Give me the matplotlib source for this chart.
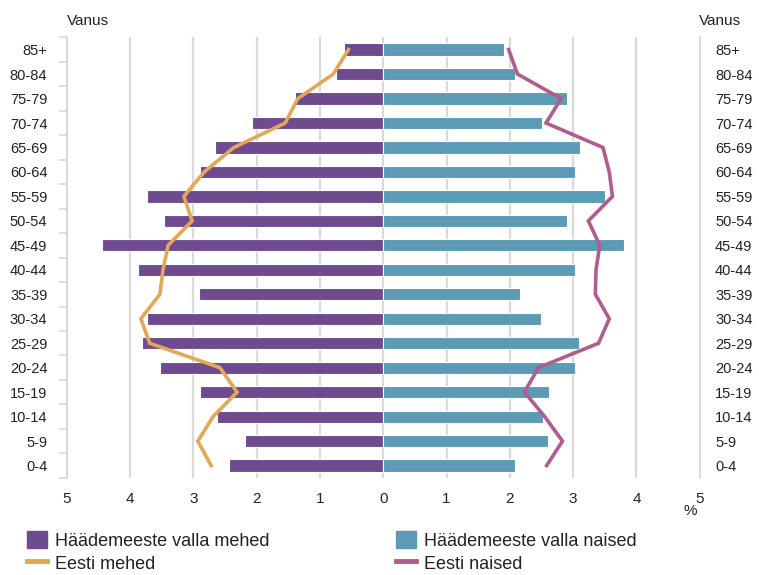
import matplotlib.pyplot as plt
import numpy as np
from matplotlib.patches import Patch
from matplotlib.lines import Line2D

plt.rcParams['font.family'] = ['Liberation Sans', 'DejaVu Sans']

# age groups, bottom to top
ages = ["0-4", "5-9", "10-14", "15-19", "20-24", "25-29", "30-34", "35-39", "40-44",
        "45-49", "50-54", "55-59", "60-64", "65-69", "70-74", "75-79", "80-84", "85+"]

# Häädemeeste vald, % of population
valla_mehed = [2.44, 2.18, 2.63, 2.90, 3.53, 3.81, 3.73, 2.91, 3.88,
               4.45, 3.47, 3.73, 2.90, 2.66, 2.07, 1.39, 0.74, 0.62]
valla_naised = [2.08, 2.60, 2.53, 2.62, 3.03, 3.09, 2.49, 2.16, 3.03,
                3.80, 2.90, 3.50, 3.03, 3.11, 2.51, 2.90, 2.08, 1.91]

# Estonia, % of population
eesti_mehed = [2.72, 2.93, 2.69, 2.31, 2.58, 3.69, 3.83, 3.53, 3.48,
               3.40, 3.02, 3.15, 2.83, 2.36, 1.55, 1.35, 0.79, 0.55]
eesti_naised = [2.58, 2.83, 2.55, 2.23, 2.45, 3.40, 3.57, 3.35, 3.36,
                3.42, 3.24, 3.62, 3.57, 3.47, 2.57, 2.81, 2.12, 1.98]

x_ticks = [-5, -4, -3, -2, -1, 0, 1, 2, 3, 4, 5]
x_labels = ["5", "4", "3", "2", "1", "0", "1", "2", "3", "4", "5"]

c_men = "#6f4a8e"
c_women = "#5b9bb5"
c_men_line = "#e3a857"
c_women_line = "#b05c91"
grid_c = "#d9d9d9"
text_c = "#222222"

fig = plt.figure(figsize=(7.59, 5.75), dpi=100)
ax = fig.add_axes([0.088, 0.169, 0.834, 0.766])

y = np.arange(len(ages))

# gridlines
for gx in range(-4, 5):
    ax.axvline(gx, color=grid_c, lw=1.6, zorder=0)

ax.barh(y, -np.array(valla_mehed), height=0.5, color=c_men, edgecolor="white", lw=0.8, zorder=2)
ax.barh(y, valla_naised, height=0.5, color=c_women, edgecolor="white", lw=0.8, zorder=2)
ax.plot(-np.array(eesti_mehed), y, color=c_men_line, lw=2.6, zorder=3, solid_joinstyle="miter")
ax.plot(eesti_naised, y, color=c_women_line, lw=2.6, zorder=3, solid_joinstyle="miter")

ax.set_xlim(-5, 5)
ax.set_ylim(-0.5, len(ages) - 0.5)

ax.set_xticks(x_ticks)
ax.set_xticklabels(x_labels, fontsize=11, color=text_c)
ax.tick_params(axis="x", length=0, pad=10)

# left labels
ax.set_yticks(y)
ax.set_yticklabels(ages, fontsize=10.5, color=text_c)
ax.set_yticks(np.arange(-0.5, len(ages)), minor=True)
ax.tick_params(axis="y", which="major", length=0, pad=14)
ax.tick_params(axis="y", which="minor", length=6, color=grid_c, width=1.2,
               left=True, right=True)

# right labels
ax2 = ax.twinx()
ax2.set_ylim(ax.get_ylim())
ax2.set_yticks(y)
ax2.set_yticklabels(ages, fontsize=10.5, color=text_c)
ax2.tick_params(axis="y", length=0, pad=11)

for a in (ax, ax2):
    for s in ["top", "bottom"]:
        a.spines[s].set_visible(False)
    for s in ["left", "right"]:
        a.spines[s].set_color(grid_c)
        a.spines[s].set_linewidth(1.2)

fig.text(0.088, 0.963, "Vanus", fontsize=11, color=text_c, ha="left", va="center")
fig.text(0.921, 0.963, "Vanus", fontsize=11, color=text_c, ha="left", va="center")
fig.text(0.909, 0.112, "%", fontsize=11, color=text_c, ha="center", va="center")

handles = [Patch(color=c_men, label="Häädemeeste valla mehed"),
           Line2D([], [], color=c_men_line, lw=3.5, label="Eesti mehed"),
           Patch(color=c_women, label="Häädemeeste valla naised"),
           Line2D([], [], color=c_women_line, lw=3.5, label="Eesti naised")]
fig.legend(handles=handles, ncol=2, loc="upper left", bbox_to_anchor=(0.026, 0.089),
           frameon=False, fontsize=13, handlelength=1.1, handleheight=1.05,
           handletextpad=0.45, columnspacing=7.0, labelspacing=0.25,
           borderpad=0.4, borderaxespad=0, labelcolor=text_c)

fig.savefig("out.png", dpi=100)
